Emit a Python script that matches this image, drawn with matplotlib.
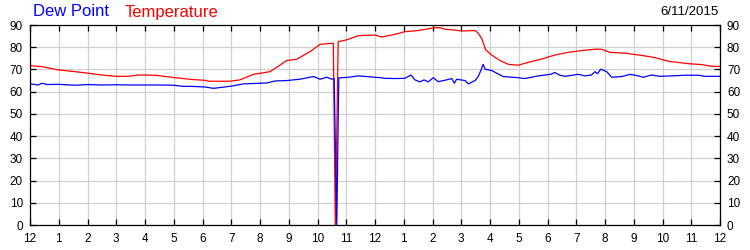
import matplotlib
matplotlib.use("Agg")
import matplotlib.pyplot as plt

plt.rcParams["font.family"] = ["Liberation Sans", "DejaVu Sans"]

# hours since midnight and readings (deg F)
temp_hours = [0, 0.4, 0.98, 1.57, 2.03, 2.49, 3.01, 3.4, 3.77, 4.35, 5.04, 5.62,
              6.09, 6.2, 6.96, 7.3, 7.77, 8.35, 8.93, 9.28, 9.74, 10.09, 10.55,
              10.62, 10.72, 11.01, 11.42, 12.0, 12.23, 12.7, 13.04, 13.5, 14.03,
              14.26, 14.43, 14.72, 15.01, 15.48, 15.59, 15.71, 15.85, 16.06,
              16.35, 16.64, 16.98, 17.33, 17.8, 18.26, 18.72, 19.19, 19.65,
              19.88, 20.17, 20.7, 21.39, 21.74, 22.2, 22.9, 23.36, 23.71, 24]
temp_vals = [71.7, 71.3, 69.8, 69.0, 68.3, 67.5, 66.9, 66.9, 67.5, 67.4, 66.3, 65.5,
             65.1, 64.7, 64.7, 65.3, 67.8, 69.0, 74.0, 74.6, 78.0, 81.3, 81.8,
             0, 82.5, 83.3, 85.2, 85.5, 84.6, 85.8, 87.0, 87.5, 88.7,
             88.8, 88.1, 87.8, 87.3, 87.5, 86.3, 84.0, 78.8, 76.5,
             74.0, 72.3, 71.9, 73.2, 74.7, 76.5, 77.7, 78.5, 79.1,
             79.1, 77.7, 77.3, 76.1, 75.3, 73.7, 72.6, 72.2, 71.4, 71.4]

dew_hours = [0, 0.3, 0.4, 0.6, 0.98, 1.57, 2.0, 2.5, 3.0, 3.5, 4.0, 4.5, 5.0, 5.3,
             5.6, 6.09, 6.38, 6.96, 7.42, 8.23, 8.52, 8.93, 9.39, 9.86, 10.09,
             10.32, 10.5, 10.58, 10.67, 10.74, 11.1, 11.42, 11.71, 12.17, 12.35,
             12.7, 13.04, 13.25, 13.39, 13.56, 13.71, 13.85, 14.03, 14.2, 14.49,
             14.67, 14.76, 14.84, 15.13, 15.25, 15.48, 15.59, 15.69, 15.76, 15.83,
             16.06, 16.46, 16.98, 17.21, 17.68, 18.1, 18.26, 18.43, 18.6, 19.07,
             19.3, 19.53, 19.65, 19.74, 19.85, 20.06, 20.23, 20.58, 20.87, 21.16,
             21.33, 21.62, 21.91, 22.32, 22.78, 23.25, 23.48, 24]
dew_vals = [63.5, 63.0, 63.8, 63.2, 63.3, 62.9, 63.2, 63.0, 63.1, 63.0, 63.0, 63.0,
            62.9, 62.4, 62.4, 62.1, 61.5, 62.4, 63.5, 63.9, 64.8, 65.0, 65.6, 66.8,
            65.6, 66.5, 65.6, 66.0, 0, 66.2, 66.5, 67.1, 66.8, 66.3, 66.0,
            65.9, 66.0, 67.5, 65.3, 64.4, 65.3, 64.4, 66.3, 64.5, 65.3,
            65.9, 63.8, 65.6, 65.0, 63.5, 65.0, 66.8, 69.8, 72.3, 70.1,
            69.5, 66.8, 66.3, 65.9, 67.1, 67.8, 68.6, 67.4, 66.9, 67.8,
            67.1, 67.5, 69.0, 68.1, 70.1, 69.0, 66.5, 66.8, 67.8, 67.1,
            66.5, 67.5, 66.9, 67.1, 67.4, 67.4, 66.9, 66.9]

x_ticks = list(range(0, 25))
x_labels = ["12", "1", "2", "3", "4", "5", "6", "7", "8", "9", "10", "11",
            "12", "1", "2", "3", "4", "5", "6", "7", "8", "9", "10", "11", "12"]
y_ticks = list(range(0, 100, 10))

fig = plt.figure(figsize=(7.5, 2.5), dpi=100)
ax = fig.add_axes([0.04, 0.1, 0.92, 0.8])

ax.plot(temp_hours, temp_vals, color="#ff0000", lw=0.9)
ax.plot(dew_hours, dew_vals, color="#0000ff", lw=0.9)

ax.set_xlim(0, 24)
ax.set_ylim(0, 90)
ax.set_xticks(x_ticks)
ax.set_xticklabels(x_labels)
ax.set_yticks(y_ticks)
ax.grid(True, color="#d0d0d0", lw=0.9)
ax.set_axisbelow(True)
ax.tick_params(direction="in", length=4, width=0.9, labelsize=8.5, colors="black",
               top=True, right=True)
ax.tick_params(axis="x", pad=6)
ax.tick_params(axis="y", pad=5, labelright=True)
for sp in ax.spines.values():
    sp.set_linewidth(0.9)

fig.text(0.044, 0.952, "Dew Point", color="#0000ff", fontsize=12, va="center")
fig.text(0.166, 0.952, "Temperature", color="#ff0000", fontsize=12, va="center")
fig.text(0.958, 0.952, "6/11/2015", color="black", fontsize=9.5, va="center", ha="right")

fig.savefig("out.png", dpi=100)
